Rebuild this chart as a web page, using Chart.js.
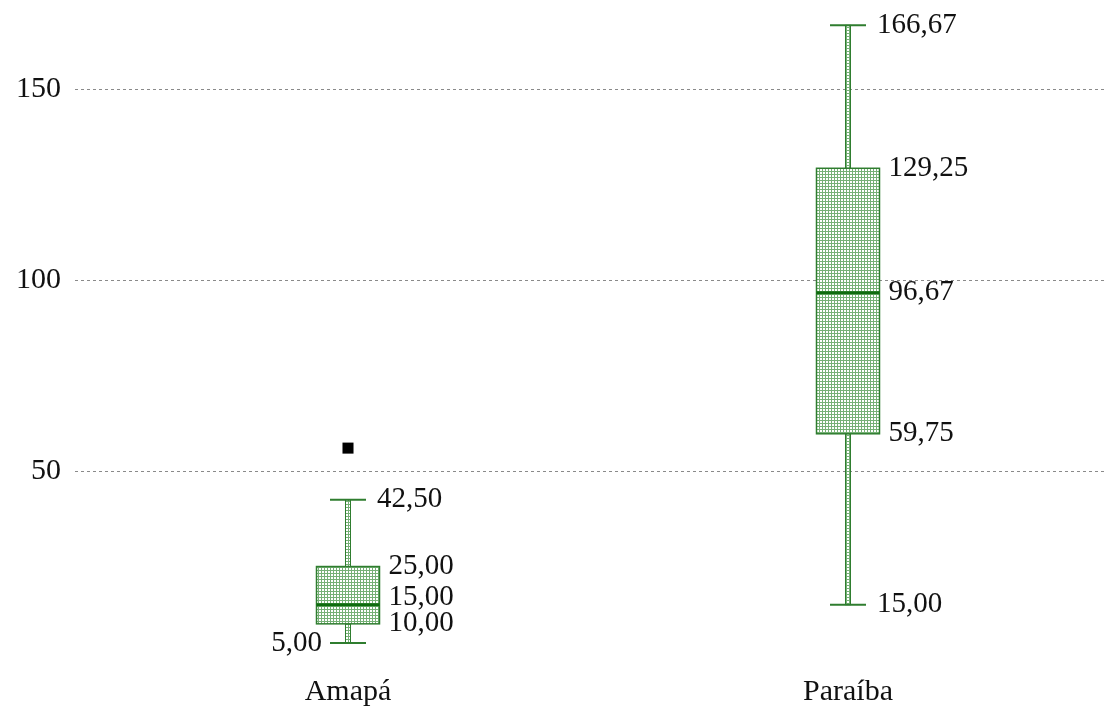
<!DOCTYPE html>
<html>
<head>
<meta charset="utf-8">
<script src="https://cdn.jsdelivr.net/npm/chart.js@4.4.0/dist/chart.umd.min.js"></script>
<style>
  html, body { margin: 0; padding: 0; background: #fff; }
  #wrap { width: 1107px; height: 707px; }
</style>
</head>
<body>
<div id="wrap"><canvas id="chartBox"></canvas></div>
<script>
(function () {
    'use strict';

    // data
    var states = ['Amapá', 'Paraíba'];
    var mins = [5.00, 15.00];
    var q1s = [10.00, 59.75];
    var medians = [15.00, 96.67];
    var q3s = [25.00, 129.25];
    var maxs = [42.50, 166.67];
    var outliers = [{ x: 0, y: 56 }];
    var yTicks = [50, 100, 150];

    var green = '#2f7d2f';
    var darkGreen = '#0e6b0e';
    var textColor = '#111111';
    var serif = '"Liberation Serif", "Times New Roman", serif';

    function fmt(v) {
        return v.toFixed(2).replace('.', ',');
    }

    // dotted green fill like the original
    function makePattern() {
        var c = document.createElement('canvas');
        c.width = 3;
        c.height = 3;
        var g = c.getContext('2d');
        g.fillStyle = '#ffffff';
        g.fillRect(0, 0, 3, 3);
        g.fillStyle = '#76b076';
        g.fillRect(0, 0, 3, 1);
        g.fillRect(0, 0, 1, 3);
        return g.createPattern(c, 'repeat');
    }

    function noPad(scale) {
        scale.paddingTop = 0;
        scale.paddingBottom = 0;
        scale.paddingLeft = 0;
        scale.paddingRight = 0;
    }

    var boxPlugin = {
        id: 'boxes',
        beforeDatasetsDraw: function (chart) {
            var ctx = chart.ctx;
            var xs = chart.scales.x;
            var ys = chart.scales.y;
            var pat = makePattern();
            var boxHalf = 31.5, capHalf = 18, whHalf = 2.5;

            ctx.save();
            ctx.font = '29px ' + serif;
            ctx.textBaseline = 'middle';

            states.forEach(function (_, i) {
                var cx = xs.getPixelForValue(i);
                var pMin = ys.getPixelForValue(mins[i]);
                var pQ1 = ys.getPixelForValue(q1s[i]);
                var pMed = ys.getPixelForValue(medians[i]);
                var pQ3 = ys.getPixelForValue(q3s[i]);
                var pMax = ys.getPixelForValue(maxs[i]);

                // whiskers (double line)
                ctx.fillStyle = pat;
                ctx.strokeStyle = green;
                ctx.lineWidth = 1;
                [[pMax, pQ3], [pQ1, pMin]].forEach(function (seg) {
                    ctx.fillRect(cx - whHalf, seg[0], whHalf * 2, seg[1] - seg[0]);
                    ctx.strokeRect(cx - whHalf, seg[0], whHalf * 2, seg[1] - seg[0]);
                });

                // caps
                ctx.lineWidth = 2;
                ctx.beginPath();
                ctx.moveTo(cx - capHalf, pMax);
                ctx.lineTo(cx + capHalf, pMax);
                ctx.moveTo(cx - capHalf, pMin);
                ctx.lineTo(cx + capHalf, pMin);
                ctx.stroke();

                // box
                ctx.fillStyle = pat;
                ctx.fillRect(cx - boxHalf, pQ3, boxHalf * 2, pQ1 - pQ3);
                ctx.lineWidth = 1.5;
                ctx.strokeRect(cx - boxHalf, pQ3, boxHalf * 2, pQ1 - pQ3);

                // median
                ctx.strokeStyle = darkGreen;
                ctx.lineWidth = 3;
                ctx.beginPath();
                ctx.moveTo(cx - boxHalf, pMed);
                ctx.lineTo(cx + boxHalf, pMed);
                ctx.stroke();

                // value labels
                ctx.fillStyle = textColor;
                ctx.textAlign = 'left';
                var medY = pMed;
                if (pQ1 - pMed < 26) medY = pMed - (26 - (pQ1 - pMed));
                ctx.fillText(fmt(maxs[i]), cx + capHalf + 11, pMax);
                ctx.fillText(fmt(q3s[i]), cx + boxHalf + 9, pQ3);
                ctx.fillText(fmt(medians[i]), cx + boxHalf + 9, medY);
                ctx.fillText(fmt(q1s[i]), cx + boxHalf + 9, pQ1);
                if (pMin - pQ1 < 26) {
                    ctx.textAlign = 'right';
                    ctx.fillText(fmt(mins[i]), cx - capHalf - 8, pMin);
                } else {
                    ctx.fillText(fmt(mins[i]), cx + capHalf + 11, pMin);
                }
            });
            ctx.restore();
        }
    };

    new Chart(document.getElementById('chartBox'), {
        type: 'scatter',
        data: {
            datasets: [{
                label: 'Outliers',
                data: outliers,
                pointStyle: 'rect',
                pointRadius: 7.8,
                backgroundColor: '#000',
                borderWidth: 0,
            }],
        },
        options: {
            responsive: true,
            maintainAspectRatio: false,
            animation: false,
            layout: { padding: 0, autoPadding: false },
            plugins: {
                legend: { display: false },
                tooltip: { enabled: false },
            },
            scales: {
                x: {
                    type: 'linear',
                    min: -0.546,
                    max: 1.518,
                    afterBuildTicks: function (scale) {
                        scale.ticks = states.map(function (_, i) { return { value: i }; });
                    },
                    afterFit: function (scale) {
                        scale.height = 40;
                        noPad(scale);
                    },
                    grid: { display: false, drawTicks: false },
                    border: { display: false },
                    ticks: {
                        padding: 7,
                        color: textColor,
                        font: { family: serif, size: 30 },
                        callback: function (v) { return states[v]; },
                    },
                },
                y: {
                    min: -1.3,
                    max: 173.3,
                    afterBuildTicks: function (scale) {
                        scale.ticks = yTicks.map(function (v) { return { value: v }; });
                    },
                    afterFit: function (scale) {
                        scale.width = 75;
                        noPad(scale);
                    },
                    grid: { color: '#8a8a8a', lineWidth: 1, drawTicks: false },
                    border: { display: false, dash: [3, 3] },
                    ticks: {
                        padding: 14,
                        color: textColor,
                        font: { family: serif, size: 30 },
                    },
                },
            },
        },
        plugins: [boxPlugin],
    });
})();
</script>
</body>
</html>
